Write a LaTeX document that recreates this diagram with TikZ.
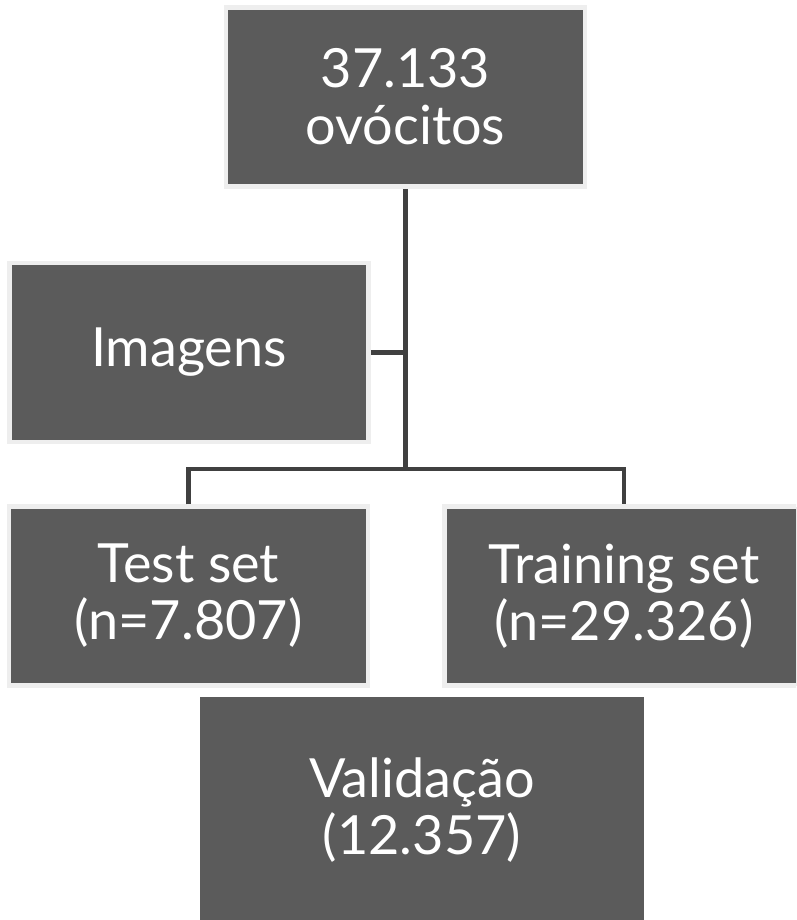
\documentclass[tikz,border=0pt]{standalone}
\usepackage{fontspec}
\setmainfont{Lato}
\usepackage{xcolor}
\definecolor{boxfill}{HTML}{5B5B5B}
\definecolor{boxedge}{HTML}{EEEEEE}
\definecolor{linkcol}{HTML}{404040}
\tikzset{
  stagebox/.style={draw=boxedge, line width=4.5pt, fill=boxfill, text=white,
    minimum width=359pt, minimum height=179pt, align=center,
    font=\fontsize{54}{57}\selectfont},
  link/.style={draw=linkcol, line width=4.5pt}
}

\begin{document}
\begin{tikzpicture}[x=1pt,y=-1pt]
        \useasboundingbox (0,0) rectangle (796,920);
        \clip (0,0) rectangle (796,920);
        % boxes
        \node[stagebox] (total) at (405.5,97) {37.133\\ovócitos};
        \node[stagebox] (imagens) at (189,352.5) {Imagens};
        \node[stagebox] (test) at (188.5,596) {Test set\\(n=7.807)};
        \node[stagebox] (train) at (624,596) {Training set\\(n=29.326)};
        \node[stagebox, draw=none, minimum width=444pt, minimum height=226pt] (valid) at (422,810) {Validação\\(12.357)};
        % connectors
        \coordinate (split) at (405.5,469);
        \draw[link] (total.south) -- (split);
        \draw[link] (imagens.east) -- (imagens.east -| split);
        \draw[link] (test.north) |- (split) -| (train.north);
      \end{tikzpicture}
\end{document}
